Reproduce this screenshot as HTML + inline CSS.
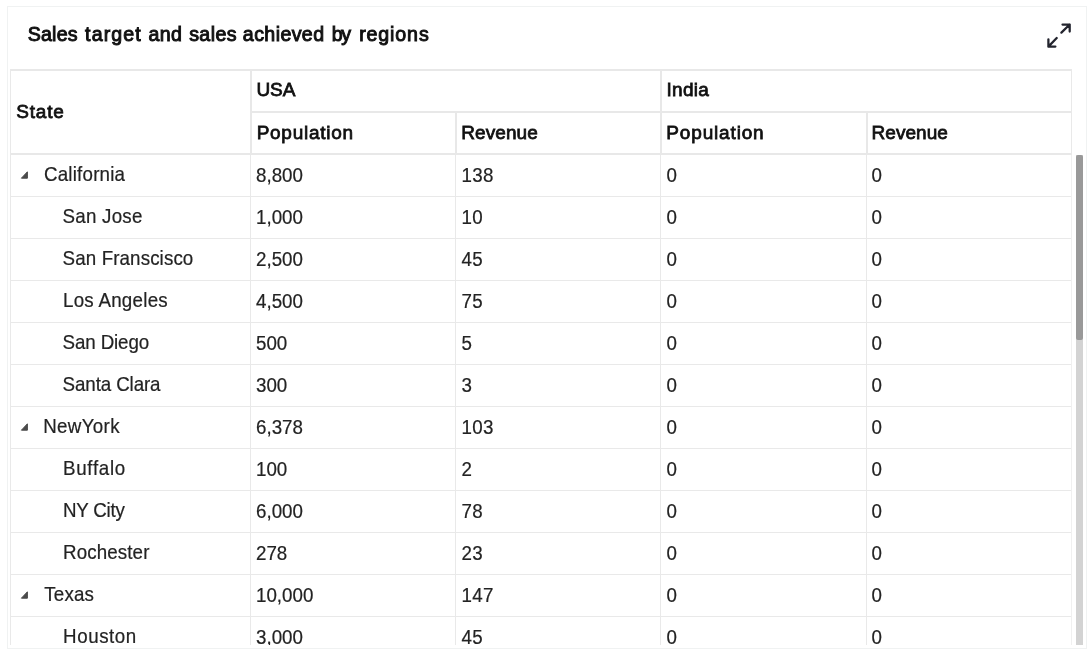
<!DOCTYPE html>
<html lang="en"><head><meta charset="utf-8"><title>Sales target and sales achieved by regions</title>
<style>
html,body{margin:0;padding:0;background:#fff;}
body{width:1088px;height:657px;overflow:hidden;position:relative;font-family:"Liberation Sans",sans-serif;}
.card{position:absolute;left:7px;top:6px;width:1078px;height:641px;border:1px solid #f0f2f2;background:#fff;}
.title{position:absolute;left:0;top:20px;width:600px;height:28px;line-height:28px;font-size:19.6px;color:#101010;-webkit-text-stroke:0.95px #101010;white-space:nowrap;}
.title span{position:absolute;top:0;}
.ico{position:absolute;left:1047px;top:23px;width:24px;height:25px;}
.grid{position:absolute;left:0;top:0;width:1088px;height:645px;overflow:hidden;}
.hl{position:absolute;height:1px;background:#e9e9e9;}
.hl2{position:absolute;height:2px;background:#e8e8e8;}
.vl{position:absolute;width:1px;background:#e9e9e9;}
.h{position:absolute;height:28px;line-height:28px;font-size:19px;color:#101010;-webkit-text-stroke:0.78px #101010;white-space:nowrap;}
.row{position:absolute;left:0;width:1088px;height:42px;}
.c{position:absolute;top:8px;transform:scaleY(1.075);transform-origin:0 20px;height:28px;line-height:28px;font-size:18.75px;color:#232323;-webkit-text-stroke:0.2px #232323;white-space:nowrap;}
.tri{position:absolute;left:20px;top:17px;width:8px;height:8px;}
.track{position:absolute;left:1076px;top:155px;width:7px;height:490px;background:#d3d3d3;}
.thumb{position:absolute;left:1076px;top:155px;width:7px;height:185px;background:#999;border-radius:2px;}
</style></head>
<body>
<div class="card"></div>
<div class="title"><span style="left:27.63px;letter-spacing:0.246px">Sales</span> <span style="left:85.10px;letter-spacing:1.122px">target</span> <span style="left:148.41px;letter-spacing:0.461px">and</span> <span style="left:189.15px;letter-spacing:0.417px">sales</span> <span style="left:242.86px;letter-spacing:0.396px">achieved</span> <span style="left:331.68px;letter-spacing:-1.388px">by</span> <span style="left:359.14px;letter-spacing:0.884px">regions</span></div>
<svg class="ico" viewBox="0 0 24 25" fill="none" stroke="#23242e" stroke-width="2.25" stroke-linecap="round" stroke-linejoin="round"><path d="M15.5 1.5H22.7V8.6M22.7 1.5L14.4 9.6"/><path d="M1.4 16.3V23.6H8.4M1.4 23.6L9.7 15"/></svg>
<div class="grid">
<div class="hl2" style="left:10px;top:69px;width:1062px"></div>
<div class="hl2" style="left:250px;top:111px;width:822px"></div>
<div class="hl2" style="left:10px;top:153px;width:1062px"></div>
<div class="hl" style="left:10px;top:196px;width:1062px"></div>
<div class="hl" style="left:10px;top:238px;width:1062px"></div>
<div class="hl" style="left:10px;top:280px;width:1062px"></div>
<div class="hl" style="left:10px;top:322px;width:1062px"></div>
<div class="hl" style="left:10px;top:364px;width:1062px"></div>
<div class="hl" style="left:10px;top:406px;width:1062px"></div>
<div class="hl" style="left:10px;top:448px;width:1062px"></div>
<div class="hl" style="left:10px;top:490px;width:1062px"></div>
<div class="hl" style="left:10px;top:532px;width:1062px"></div>
<div class="hl" style="left:10px;top:574px;width:1062px"></div>
<div class="hl" style="left:10px;top:616px;width:1062px"></div>
<div class="hl" style="left:10px;top:658px;width:1062px"></div>
<div class="vl" style="left:10px;top:69px;height:600px"></div>
<div class="vl" style="left:250px;top:69px;width:2px;height:86px;background:#e8e8e8"></div>
<div class="vl" style="left:250px;top:155px;height:500px"></div>
<div class="vl" style="left:455px;top:111px;width:2px;height:44px;background:#e8e8e8"></div>
<div class="vl" style="left:455px;top:155px;height:500px"></div>
<div class="vl" style="left:660px;top:69px;width:2px;height:86px;background:#e8e8e8"></div>
<div class="vl" style="left:660px;top:155px;height:500px"></div>
<div class="vl" style="left:866px;top:111px;width:2px;height:44px;background:#e8e8e8"></div>
<div class="vl" style="left:866px;top:155px;height:500px"></div>
<div class="vl" style="left:1071px;top:69px;height:86px"></div>
<div class="vl" style="left:1071px;top:155px;height:500px;background:#f0f0f0"></div>
<div class="h" style="left:16.35px;top:97.5px;letter-spacing:0.757px">State</div>
<div class="h" style="left:256.40px;top:75.5px;letter-spacing:-0.062px">USA</div>
<div class="h" style="left:256.66px;top:118.5px;letter-spacing:0.731px">Population</div>
<div class="h" style="left:461.35px;top:118.5px;letter-spacing:0.050px">Revenue</div>
<div class="h" style="left:666.44px;top:75.5px;letter-spacing:0.318px">India</div>
<div class="h" style="left:666.35px;top:118.5px;letter-spacing:0.835px">Population</div>
<div class="h" style="left:871.58px;top:118.5px;letter-spacing:0.041px">Revenue</div>
<div class="row" style="top:154px">
<svg class="tri" viewBox="0 0 8 8"><path d="M7.4 0.8V7.2H1.4Z" fill="#4a4a4a" stroke="#4a4a4a" stroke-width="1" stroke-linejoin="round"/></svg>
<span class="c" style="top:7px;left:43.97px;letter-spacing:0.205px">California</span>
<span class="c" style="left:256px">8,800</span>
<span class="c" style="left:461.6px;letter-spacing:.3px">138</span>
<span class="c" style="left:666.5px">0</span>
<span class="c" style="left:871.5px">0</span>
</div>
<div class="row" style="top:196px">
<span class="c" style="top:7px;left:62.62px;letter-spacing:0.223px">San Jose</span>
<span class="c" style="left:256px">1,000</span>
<span class="c" style="left:461.6px;letter-spacing:.3px">10</span>
<span class="c" style="left:666.5px">0</span>
<span class="c" style="left:871.5px">0</span>
</div>
<div class="row" style="top:238px">
<span class="c" style="top:7px;left:62.62px;letter-spacing:0.113px">San Franscisco</span>
<span class="c" style="left:256px">2,500</span>
<span class="c" style="left:461.6px;letter-spacing:.3px">45</span>
<span class="c" style="left:666.5px">0</span>
<span class="c" style="left:871.5px">0</span>
</div>
<div class="row" style="top:280px">
<span class="c" style="top:7px;left:63.00px;letter-spacing:0.255px">Los Angeles</span>
<span class="c" style="left:256px">4,500</span>
<span class="c" style="left:461.6px;letter-spacing:.3px">75</span>
<span class="c" style="left:666.5px">0</span>
<span class="c" style="left:871.5px">0</span>
</div>
<div class="row" style="top:322px">
<span class="c" style="top:7px;left:62.62px;letter-spacing:-0.134px">San Diego</span>
<span class="c" style="left:256px">500</span>
<span class="c" style="left:461.6px;letter-spacing:.3px">5</span>
<span class="c" style="left:666.5px">0</span>
<span class="c" style="left:871.5px">0</span>
</div>
<div class="row" style="top:364px">
<span class="c" style="top:7px;left:62.62px;letter-spacing:-0.108px">Santa Clara</span>
<span class="c" style="left:256px">300</span>
<span class="c" style="left:461.6px;letter-spacing:.3px">3</span>
<span class="c" style="left:666.5px">0</span>
<span class="c" style="left:871.5px">0</span>
</div>
<div class="row" style="top:406px">
<svg class="tri" viewBox="0 0 8 8"><path d="M7.4 0.8V7.2H1.4Z" fill="#4a4a4a" stroke="#4a4a4a" stroke-width="1" stroke-linejoin="round"/></svg>
<span class="c" style="top:7px;left:43.15px;letter-spacing:0.346px">NewYork</span>
<span class="c" style="left:256px">6,378</span>
<span class="c" style="left:461.6px;letter-spacing:.3px">103</span>
<span class="c" style="left:666.5px">0</span>
<span class="c" style="left:871.5px">0</span>
</div>
<div class="row" style="top:448px">
<span class="c" style="top:7px;left:62.96px;letter-spacing:0.711px">Buffalo</span>
<span class="c" style="left:256px">100</span>
<span class="c" style="left:461.6px;letter-spacing:.3px">2</span>
<span class="c" style="left:666.5px">0</span>
<span class="c" style="left:871.5px">0</span>
</div>
<div class="row" style="top:490px">
<span class="c" style="top:7px;left:62.96px;letter-spacing:-0.201px">NY City</span>
<span class="c" style="left:256px">6,000</span>
<span class="c" style="left:461.6px;letter-spacing:.3px">78</span>
<span class="c" style="left:666.5px">0</span>
<span class="c" style="left:871.5px">0</span>
</div>
<div class="row" style="top:532px">
<span class="c" style="top:7px;left:63.03px;letter-spacing:0.113px">Rochester</span>
<span class="c" style="left:256px">278</span>
<span class="c" style="left:461.6px;letter-spacing:.3px">23</span>
<span class="c" style="left:666.5px">0</span>
<span class="c" style="left:871.5px">0</span>
</div>
<div class="row" style="top:574px">
<svg class="tri" viewBox="0 0 8 8"><path d="M7.4 0.8V7.2H1.4Z" fill="#4a4a4a" stroke="#4a4a4a" stroke-width="1" stroke-linejoin="round"/></svg>
<span class="c" style="top:7px;left:44.31px;letter-spacing:0.178px">Texas</span>
<span class="c" style="left:256px">10,000</span>
<span class="c" style="left:461.6px;letter-spacing:.3px">147</span>
<span class="c" style="left:666.5px">0</span>
<span class="c" style="left:871.5px">0</span>
</div>
<div class="row" style="top:616px">
<span class="c" style="top:7px;left:63.03px;letter-spacing:0.575px">Houston</span>
<span class="c" style="left:256px">3,000</span>
<span class="c" style="left:461.6px;letter-spacing:.3px">45</span>
<span class="c" style="left:666.5px">0</span>
<span class="c" style="left:871.5px">0</span>
</div>
<div class="track"></div><div class="thumb"></div>
</div>
</body></html>
